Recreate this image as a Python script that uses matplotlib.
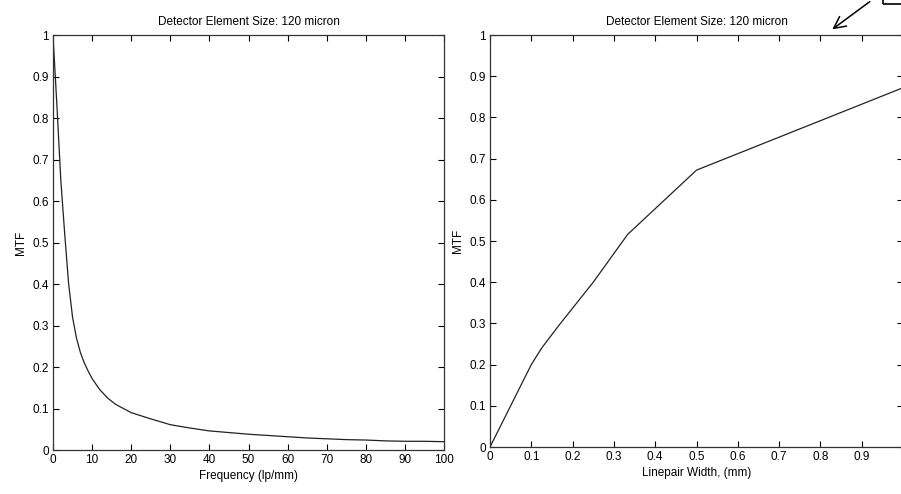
import numpy as np
from matplotlib import pyplot as plt

# MTF vs frequency (lp/mm)
freq = [0, 1, 2, 3, 4, 5, 6, 7, 8, 9, 10, 12, 14, 16, 18, 20, 25, 30, 35, 40,
        45, 50, 55, 60, 65, 70, 75, 80, 85, 90, 95, 100]
mtf_freq = [1.0, 0.83, 0.65, 0.52, 0.40, 0.32, 0.27, 0.235, 0.21, 0.19, 0.172,
            0.145, 0.125, 0.11, 0.10, 0.09, 0.075, 0.061, 0.053, 0.046, 0.042,
            0.038, 0.035, 0.032, 0.029, 0.027, 0.025, 0.024, 0.022, 0.021,
            0.021, 0.02]

# MTF vs linepair width (mm), right panel
width = [0, 0.05, 0.1, 0.125, 0.1667, 0.2, 0.25, 0.3333, 0.5, 1.0]
mtf_width = [0, 0.1, 0.2, 0.24, 0.295, 0.337, 0.40, 0.516, 0.672, 0.872]

xticks_left = [0, 10, 20, 30, 40, 50, 60, 70, 80, 90, 100]
xticks_right = [0, 0.1, 0.2, 0.3, 0.4, 0.5, 0.6, 0.7, 0.8, 0.9, 1]
yticks = [0, 0.1, 0.2, 0.3, 0.4, 0.5, 0.6, 0.7, 0.8, 0.9, 1]
title = 'Detector Element Size: 120 micron'


def lbl(v):
    return '%g' % v


plt.rcParams['font.family'] = ['Liberation Sans', 'DejaVu Sans']
plt.rcParams['font.size'] = 8.5

fig = plt.figure(figsize=(9.01, 4.94), dpi=100)
ax1 = fig.add_axes([53 / 901, 1 - 450 / 494, 391 / 901, 415 / 494])
ax2 = fig.add_axes([490 / 901, 1 - 447 / 494, 413 / 901, 412 / 494])

ax1.plot(freq, mtf_freq, color='#222222', lw=0.9)
ax1.set_xlim(0, 100)
ax1.set_xticks(xticks_left)
ax1.set_xticklabels([lbl(v) for v in xticks_left])
ax1.set_xlabel('Frequency (lp/mm)', labelpad=3)

ax2.plot(width, mtf_width, color='#222222', lw=0.9)
ax2.set_xlim(0, 1)
ax2.set_xticks(xticks_right)
# the "1" label falls outside the cropped figure, so it is not shown
ax2.set_xticklabels([lbl(v) for v in xticks_right[:-1]] + [''])
ax2.set_xlabel('Linepair Width, (mm)', labelpad=3)

for ax in (ax1, ax2):
    ax.set_ylim(0, 1)
    ax.set_yticks(yticks)
    ax.set_yticklabels([lbl(v) for v in yticks])
    ax.set_ylabel('MTF', labelpad=4)
    ax.set_title(title, fontsize=8.5, pad=7)
    ax.tick_params(direction='in', top=True, right=True, length=4,
                   width=0.8, pad=3, labelsize=8.5)
    for s in ax.spines.values():
        s.set_linewidth(0.9)
        s.set_color('#333333')

# arrow + box clipped at the top right corner
fig.patches.append(plt.Rectangle((883 / 901, 1 - 4 / 494), 0.05, 0.05,
                                 transform=fig.transFigure, fill=False,
                                 lw=1.2, ec='black'))
ax2.annotate('', xy=(830 / 901, 1 - 31 / 494), xycoords='figure fraction',
             xytext=(872 / 901, 1.0), textcoords='figure fraction',
             arrowprops=dict(arrowstyle='->,head_length=1.0,head_width=0.5',
                             lw=1.1, color='black'),
             annotation_clip=False)

fig.savefig('out.png', dpi=100)
